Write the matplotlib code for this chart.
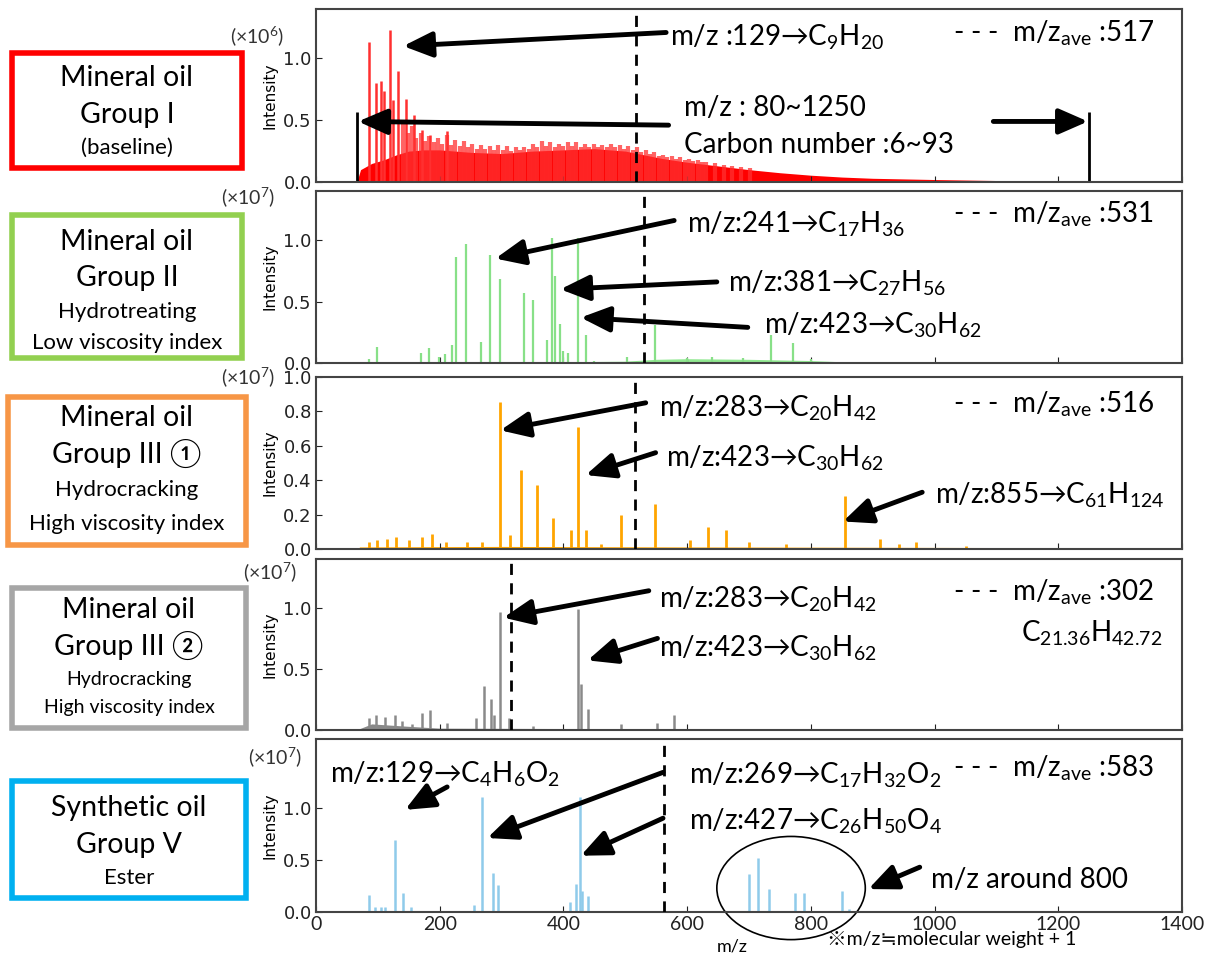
import numpy as np
import matplotlib.pyplot as plt
from matplotlib.patches import Rectangle, Ellipse

plt.rcParams['font.family'] = ['Lato', 'Noto Sans CJK JP', 'DejaVu Sans']
plt.rcParams['mathtext.fontset'] = 'custom'
plt.rcParams['mathtext.rm'] = 'Lato'
plt.rcParams['mathtext.it'] = 'Lato:italic'
plt.rcParams['mathtext.default'] = 'rm'

# ---- data (m/z, intensity in panel units) ----
red_top_mz = [85, 97, 105, 110, 119, 124, 132, 145, 159, 171, 184, 212]
red_top_h = [1.13, 0.80, 0.82, 0.74, 1.23, 0.66, 0.90, 0.67, 0.54, 0.42, 0.38, 0.41]
red_mz = [141, 148, 155, 162, 169, 176, 183, 190, 197, 204, 211, 218, 225, 232, 239, 246,
          253, 260, 267, 274, 281, 288, 295, 302, 309, 316, 323, 330, 337, 344, 351, 358,
          365, 372, 379, 386, 393, 400, 407, 414, 421, 428, 435, 442, 449, 456, 463, 470,
          477, 484, 491, 498, 505, 512, 519, 526, 533, 540, 547, 554, 561, 568, 575, 582,
          589, 596, 603, 610, 617, 624, 631, 645, 659, 673, 687, 701]
red_h = [0.50, 0.40, 0.45, 0.36, 0.40, 0.33, 0.37, 0.32, 0.36, 0.31, 0.38, 0.30, 0.34, 0.29, 0.33, 0.28,
         0.31, 0.27, 0.30, 0.27, 0.29, 0.26, 0.30, 0.26, 0.29, 0.25, 0.28, 0.26, 0.28, 0.27, 0.31, 0.28,
         0.33, 0.29, 0.32, 0.28, 0.31, 0.29, 0.32, 0.29, 0.32, 0.28, 0.31, 0.28, 0.31, 0.28, 0.30, 0.28,
         0.31, 0.28, 0.30, 0.27, 0.29, 0.26, 0.28, 0.24, 0.26, 0.23, 0.24, 0.21, 0.22, 0.20, 0.21, 0.19,
         0.20, 0.18, 0.19, 0.17, 0.18, 0.16, 0.16, 0.15, 0.14, 0.13, 0.12, 0.11]
red_env_mz = [66, 72, 90, 110, 130, 150, 175, 200, 250, 300, 350, 400, 450, 500, 530, 560, 600, 650,
              700, 750, 800, 850, 900, 1000, 1100, 1200, 1300, 1400]
red_env_h = [0.0, 0.10, 0.15, 0.18, 0.22, 0.25, 0.26, 0.26, 0.24, 0.23, 0.25, 0.26, 0.27, 0.25, 0.22,
             0.19, 0.16, 0.13, 0.10, 0.075, 0.055, 0.04, 0.03, 0.02, 0.012, 0.008, 0.005, 0.003]

green_mz = [85, 98, 170, 183, 199, 209, 220, 226, 243, 267, 282, 297, 337, 351, 374, 381, 387,
            394, 400, 408, 423, 436, 449, 503, 548, 600, 640, 690, 736, 771, 800]
green_h = [0.03, 0.13, 0.08, 0.12, 0.05, 0.07, 0.15, 0.86, 0.97, 0.17, 0.88, 0.68, 0.57, 0.51, 0.19,
           1.02, 0.71, 0.32, 0.10, 0.08, 1.02, 0.23, 0.02, 0.05, 0.31, 0.04, 0.05, 0.04, 0.23, 0.16, 0.03]
green_env_mz = [70, 200, 400, 500, 550, 600, 700, 800, 850, 900]
green_env_h = [0.005, 0.01, 0.01, 0.015, 0.03, 0.035, 0.03, 0.02, 0.01, 0.0]

orange_mz = [86, 98, 115, 130, 150, 171, 188, 210, 244, 269, 297, 313, 332, 358, 383, 412, 424,
             436, 460, 493, 548, 605, 634, 663, 700, 760, 855, 911, 942, 970, 1050]
orange_h = [0.04, 0.05, 0.06, 0.07, 0.05, 0.07, 0.09, 0.04, 0.04, 0.04, 0.857, 0.08, 0.46, 0.37,
            0.18, 0.11, 0.71, 0.11, 0.03, 0.20, 0.26, 0.05, 0.13, 0.11, 0.04, 0.03, 0.31, 0.06,
            0.03, 0.04, 0.02]
orange_env_mz = [70, 300, 600, 900, 1190, 1195]
orange_env_h = [0.012, 0.015, 0.012, 0.01, 0.008, 0.0]

gray_mz = [85, 97, 112, 128, 139, 155, 171, 184, 211, 258, 271, 283, 288, 297, 312, 350, 424,
           429, 439, 493, 551, 578]
gray_h = [0.10, 0.12, 0.11, 0.12, 0.07, 0.05, 0.14, 0.16, 0.06, 0.10, 0.36, 0.25, 0.12, 0.97,
          0.10, 0.03, 0.99, 0.38, 0.17, 0.05, 0.06, 0.12]
gray_env_mz = [70, 90, 150, 200, 400, 600, 660]
gray_env_h = [0.01, 0.05, 0.03, 0.015, 0.012, 0.01, 0.0]

blue_mz = [85, 95, 105, 112, 128, 141, 153, 255, 269, 286, 295, 411, 420, 426, 430, 440, 700,
           715, 733, 775, 789, 850, 862]
blue_h = [0.16, 0.05, 0.05, 0.05, 0.69, 0.18, 0.05, 0.07, 1.10, 0.37, 0.26, 0.10, 0.27, 1.10,
          0.20, 0.15, 0.36, 0.52, 0.22, 0.18, 0.18, 0.20, 0.03]
blue_env_mz = [70, 400, 800, 1000]
blue_env_h = [0.005, 0.005, 0.005, 0.0]

mz_ave = [517, 531, 516, 315, 562]
ave_labels = ['517', '531', '516', '302', '583']
ylims = [1.4, 1.4, 1.0, 1.4, 1.66]
scales = ['6', '7', '7', '7', '7']

W, H = 1211, 956
fig = plt.figure(figsize=(W / 100, H / 100), dpi=100)


def fx(px):
    return px / W


def fy(py):
    return 1 - py / H


panel_px = [(9, 182), (191, 363), (377, 549), (559, 730), (739, 912)]
axes = []
for i, (top, bot) in enumerate(panel_px):
    ax = fig.add_axes([fx(316), fy(bot), (1182 - 316) / W, (bot - top) / H])
    ax.set_xlim(0, 1400)
    ax.set_ylim(0, ylims[i])
    ax.set_xticks(range(0, 1401, 200))
    if ylims[i] == 1.0:
        ax.set_yticks([0, 0.2, 0.4, 0.6, 0.8, 1.0])
    else:
        ax.set_yticks([0, 0.5, 1.0])
    ax.tick_params(direction='in', length=4, labelsize=13, colors='#222222', pad=3)
    for lab in ax.get_yticklabels():
        lab.set_family('DejaVu Sans')
    for s in ax.spines.values():
        s.set_color('#444444')
        s.set_linewidth(1.5)
    ax.set_ylabel('Intensity', family='DejaVu Sans', fontsize=11, labelpad=4)
    if i < 4:
        ax.tick_params(labelbottom=False)
    ax.axvline(mz_ave[i], color='k', ls=(0, (4, 3)), lw=2, zorder=5)
    axes.append(ax)

# spectra
ax1, ax2, ax3, ax4, ax5 = axes
ax1.fill_between(red_env_mz, red_env_h, color='#ff0000', lw=0)
ax1.vlines(red_mz, 0, red_h, color='#ff3030', lw=3.0, alpha=0.75)
ax1.vlines(red_top_mz, 0, red_top_h, color='#ff3030', lw=1.8)

ax2.fill_between(green_env_mz, green_env_h, color='#90e890', lw=0)
ax2.vlines(green_mz, 0, green_h, color='#88e088', lw=1.6)

ax3.fill_between(orange_env_mz, orange_env_h, color='#ffa500', lw=0)
ax3.vlines(orange_mz, 0, orange_h, color='#ffa500', lw=2.0)

ax4.fill_between(gray_env_mz, gray_env_h, color='#888888', lw=0)
ax4.vlines(gray_mz, 0, gray_h, color='#8a8a8a', lw=1.8)

ax5.fill_between(blue_env_mz, blue_env_h, color='#8fcbea', lw=0)
ax5.vlines(blue_mz, 0, blue_h, color='#8fcbea', lw=1.8)

ax5.set_xticklabels([str(v) for v in range(0, 1401, 200)], fontsize=14)

# scale labels
scale_px = [(257, 36), (248, 197), (248, 377), (270, 572), (275, 757)]
for (px, py), s in zip(scale_px, scales):
    fig.text(fx(px), fy(py), '(×10$^{%s}$)' % s, fontsize=14, ha='center', va='center',
             color='#333333')

arrow_kw = dict(arrowstyle='-|>,head_length=0.8,head_width=0.35', lw=3.5, color='k',
                shrinkA=0, shrinkB=0, mutation_scale=22)
big = 20


def note(ax, txt, xy, size=big, ha='left'):
    ax.text(xy[0], xy[1], txt, fontsize=size, ha=ha, va='center', clip_on=False)


def arrow(ax, start, end):
    ax.annotate('', xy=end, xytext=start, arrowprops=arrow_kw, annotation_clip=False)


# panel 1
note(ax1, 'm/z :129→C$_{9}$H$_{20}$', (572, 1.17))
arrow(ax1, (566, 1.21), (141, 1.10))
note(ax1, 'm/z : 80~1250', (595, 0.60))
note(ax1, 'Carbon number :6~93', (595, 0.30))
arrow(ax1, (570, 0.46), (68, 0.49))
arrow(ax1, (1095, 0.49), (1248, 0.49))
ax1.vlines([66, 1250], 0, 0.57, color='k', lw=2)
# panel 2
note(ax2, 'm/z:241→C$_{17}$H$_{36}$', (600, 1.13))
arrow(ax2, (579, 1.16), (290, 0.85))
note(ax2, 'm/z:381→C$_{27}$H$_{56}$', (666, 0.65))
arrow(ax2, (648, 0.66), (395, 0.60))
note(ax2, 'm/z:423→C$_{30}$H$_{62}$', (724, 0.31))
arrow(ax2, (698, 0.29), (428, 0.37))
# panel 3
note(ax3, 'm/z:283→C$_{20}$H$_{42}$', (554, 0.82))
arrow(ax3, (533, 0.85), (298, 0.69))
note(ax3, 'm/z:423→C$_{30}$H$_{62}$', (566, 0.53))
arrow(ax3, (549, 0.56), (436, 0.43))
note(ax3, 'm/z:855→C$_{61}$H$_{124}$', (1000, 0.31))
arrow(ax3, (980, 0.33), (852, 0.16))
# panel 4
note(ax4, 'm/z:283→C$_{20}$H$_{42}$', (554, 1.07))
arrow(ax4, (538, 1.14), (303, 0.92))
note(ax4, 'm/z:423→C$_{30}$H$_{62}$', (554, 0.67))
arrow(ax4, (552, 0.75), (439, 0.57))
note(ax4, 'C$_{21.36}$H$_{42.72}$', (1368, 0.79), ha='right')
# panel 5
note(ax5, 'm/z:129→C$_{4}$H$_{6}$O$_{2}$', (23, 1.32))
arrow(ax5, (212, 1.20), (144, 0.98))
note(ax5, 'm/z:269→C$_{17}$H$_{32}$O$_{2}$', (603, 1.31))
arrow(ax5, (561, 1.34), (277, 0.71))
note(ax5, 'm/z:427→C$_{26}$H$_{50}$O$_{4}$', (603, 0.87))
arrow(ax5, (561, 0.90), (428, 0.54))
note(ax5, 'm/z around 800', (995, 0.31))
arrow(ax5, (976, 0.43), (893, 0.22))
ax5.add_patch(Ellipse((768, 0.23), 240, 0.99, fill=False, ec='k', lw=1.2, clip_on=False))

# average legend text
ave_y = [1.2, 1.21, 0.84, 1.13, 1.38]
for ax, y, lab in zip(axes, ave_y, ave_labels):
    note(ax, '- - -  m/z$_{ave}$ :' + lab, (1030, y))

fig.text(fx(732), fy(946), 'm/z', fontsize=13, ha='center', va='center')
fig.text(fx(952), fy(940), '※m/z≒molecular weight + 1', fontsize=14, ha='center', va='center')

# group boxes
boxes = [
    ((12, 53, 242, 168), '#ff0000', [('Mineral oil', 20.5, 78), ('Group I', 20.5, 115), ('(baseline)', 16, 148)]),
    ((12, 215, 242, 358), '#92d050', [('Mineral oil', 20.5, 242), ('Group II', 20.5, 278),
                                      ('Hydrotreating', 16, 312), ('Low viscosity index', 16, 343)]),
    ((8, 397, 246, 545), '#f79646', [('Mineral oil', 20.5, 418), ('Group III ①', 20.5, 453),
                                     ('Hydrocracking', 16, 490), ('High viscosity index', 16, 524)]),
    ((12, 588, 246, 728), '#a6a6a6', [('Mineral oil', 20.5, 610), ('Group III ②', 20.5, 645),
                                      ('Hydrocracking', 14, 680), ('High viscosity index', 14, 707)]),
    ((12, 781, 246, 898), '#00b0f0', [('Synthetic oil', 20.5, 808), ('Group V', 20.5, 845), ('Ester', 16, 878)]),
]
for (x0, y0, x1, y1), col, lines in boxes:
    fig.patches.append(Rectangle((fx(x0), fy(y1)), fx(x1) - fx(x0), fy(y0) - fy(y1),
                                 transform=fig.transFigure, fill=False, ec=col, lw=4))
    for txt, sz, py in lines:
        fig.text(fx((x0 + x1) / 2), fy(py), txt, fontsize=sz, ha='center', va='center')

fig.savefig('out.png', dpi=100)
